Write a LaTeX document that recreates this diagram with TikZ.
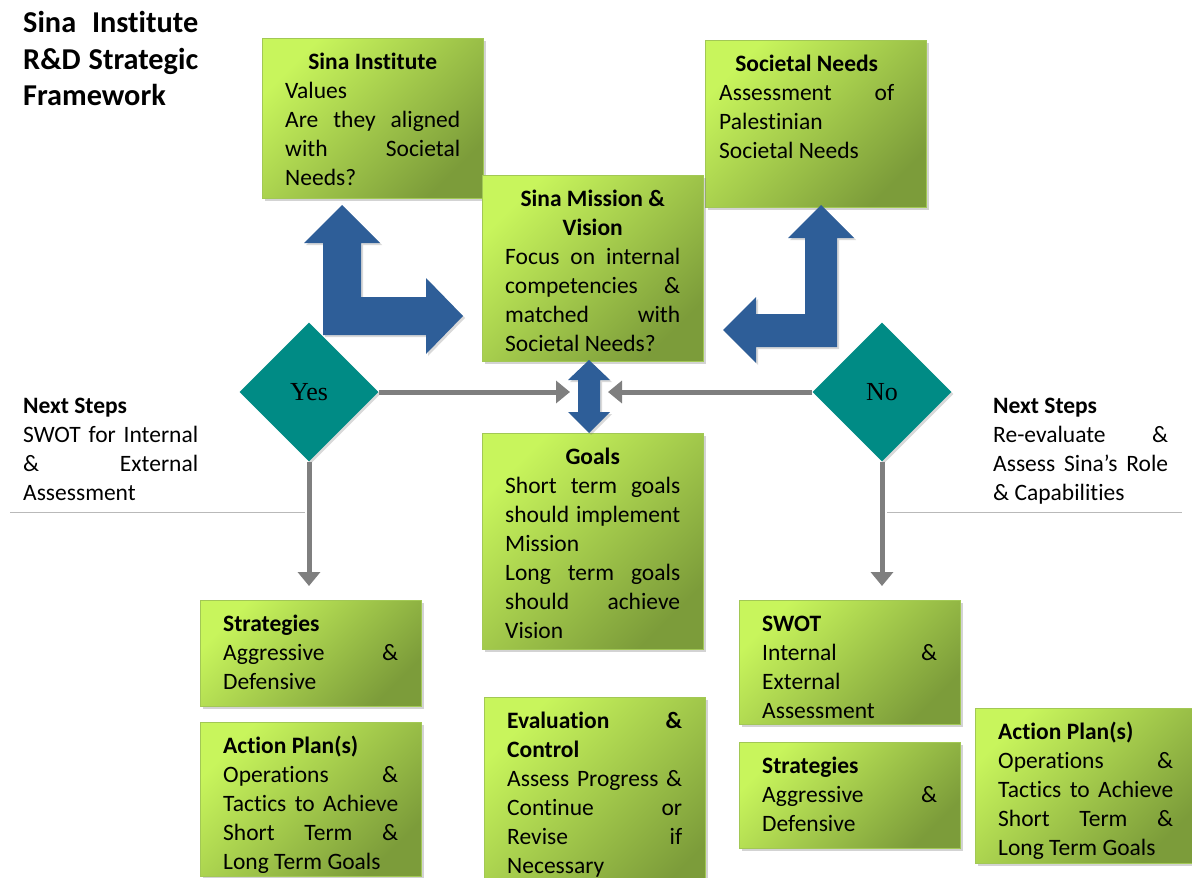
\documentclass[tikz,border=0pt]{standalone}
\usepackage{fontspec}
\setmainfont{Carlito}[Ligatures=NoCommon]
\newfontfamily\yesnofont{Liberation Serif}
\usetikzlibrary{shapes.geometric,shadows,arrows.meta}

\definecolor{boxlight}{HTML}{C8F55C}
\definecolor{boxdark}{HTML}{7C9C3A}
\definecolor{boxedge}{HTML}{A2C855}
\definecolor{arrowblue}{HTML}{2E5E98}
\definecolor{decteal}{HTML}{008B85}
\definecolor{flowgrey}{HTML}{7F7F7F}

\newcommand{\boxfont}{\fontsize{23.5pt}{29pt}\selectfont}
\hyphenpenalty=10000
\exhyphenpenalty=10000
\tolerance=10000
\hbadness=10000

\tikzset{
  greenbox/.style={draw=boxedge, anchor=north west, inner xsep=23pt, inner ysep=10.5pt,
    top color=boxlight, bottom color=boxdark, shading angle=45,
    drop shadow={shadow xshift=3pt, shadow yshift=-3pt, opacity=0.35}},
  decision/.style={diamond, fill=decteal, minimum width=139pt, minimum height=139pt, inner sep=0pt,
    font=\yesnofont\fontsize{26pt}{30pt}\selectfont,
    drop shadow={shadow xshift=2pt, shadow yshift=-2pt, opacity=0.3}},
  flow/.style={draw=flowgrey, line width=5pt, -{Triangle[width=22pt,length=14pt]}},
  bigarrow/.style={fill=arrowblue, drop shadow={shadow xshift=2pt, shadow yshift=-2pt, opacity=0.3}},
  divider/.style={draw=gray!55, line width=1pt}
}

\begin{document}
\begin{tikzpicture}[x=1pt, y=-1pt]
\useasboundingbox (0,0) rectangle (1192,878);

% title
\node[anchor=north west, inner sep=0pt] (title) at (23,7)
  {\parbox[t]{175pt}{\fontsize{30.3pt}{36.5pt}\selectfont\bfseries
   \strut Sina Institute\linebreak R\&D Strategic\linebreak Framework}};

% next steps
\node[anchor=north west, inner sep=0pt] (nextyes) at (23,393)
  {\parbox[t]{175pt}{\boxfont\strut\textbf{Next Steps}\par
   SWOT for Internal\linebreak \& External\linebreak Assessment}};
\node[anchor=north west, inner sep=0pt] (nextno) at (993,393)
  {\parbox[t]{175pt}{\boxfont\strut\textbf{Next Steps}\par
   Re-evaluate \&\linebreak Assess Sina’s Role\linebreak \& Capabilities}};

\draw[divider] (10,512) -- (305,512);
\draw[divider] (887,512) -- (1182,512);

% flow connectors
\node[decision] (yes) at (309,392) {Yes};
\node[decision] (no) at (882,392) {No};
\coordinate (yesin) at (570,392);
\coordinate (noin) at (608,392);
\coordinate (yesdown) at (309,586);
\coordinate (nodown) at (882,586);
\draw[flow] (yes.east) -- (yesin);
\draw[flow] (no.west) -- (noin);
\draw[flow] (yes.south) -- (yesdown);
\draw[flow] (no.south) -- (nodown);

% boxes
\node[greenbox] (values) at (262,38) {\parbox[t][139pt][t]{175pt}{\boxfont
  {\centering\strut\textbf{Sina Institute}\par}
  Values\par
  Are they aligned\linebreak with Societal\linebreak Needs?}};
\node[greenbox, inner xsep=14pt] (needs) at (705,40) {\parbox[t][146pt][t]{175pt}{\boxfont
  {\centering\strut\textbf{Societal Needs}\par}
  Assessment of\linebreak Palestinian\\ Societal Needs}\rule{18pt}{0pt}};
\node[greenbox] (mission) at (482,175) {\parbox[t][165pt][t]{175pt}{\boxfont
  {\centering\strut\textbf{Sina Mission \&\\ Vision}\par}
  Focus on internal\linebreak competencies \&\linebreak matched with\linebreak Societal Needs?}};
\node[greenbox] (goals) at (482,433) {\parbox[t][195pt][t]{175pt}{\boxfont
  {\centering\strut\textbf{Goals}\par}
  Short term goals\linebreak should implement\linebreak Mission\par
  Long term goals\linebreak should achieve\linebreak Vision}};
\node[greenbox] (stratyes) at (200,600) {\parbox[t][85pt][t]{175pt}{\boxfont
  \strut\textbf{Strategies}\par
  Aggressive \&\linebreak Defensive}};
\node[greenbox] (planyes) at (200,722) {\parbox[t][133pt][t]{175pt}{\boxfont
  \strut\textbf{Action Plan(s)}\par
  Operations \&\linebreak Tactics to Achieve\linebreak Short Term \&\linebreak Long Term Goals}};
\node[greenbox] (eval) at (484,697) {\parbox[t][190pt][t]{175pt}{\boxfont
  \strut\textbf{Evaluation \&\linebreak Control}\par
  Assess Progress \&\linebreak Continue or\linebreak Revise if\linebreak Necessary}};
\node[greenbox] (swot) at (739,600) {\parbox[t][103pt][t]{175pt}{\boxfont
  \strut\textbf{SWOT}\par
  Internal \&\linebreak External\\ Assessment}};
\node[greenbox] (stratno) at (739,742) {\parbox[t][85pt][t]{175pt}{\boxfont
  \strut\textbf{Strategies}\par
  Aggressive \&\linebreak Defensive}};
\node[greenbox] (planno) at (975,708) {\parbox[t][134pt][t]{175pt}{\boxfont
  \strut\textbf{Action Plan(s)}\par
  Operations \&\linebreak Tactics to Achieve\linebreak Short Term \&\linebreak Long Term Goals}};

% blue arrows
\fill[bigarrow] (342,205) -- (380,243) -- (361,243) -- (361,297) -- (426,297) -- (426,278)
  -- (463,316) -- (426,354) -- (426,335) -- (323,335) -- (323,243) -- (304,243) -- cycle;
\fill[bigarrow] (821,205) -- (854,238) -- (837,238) -- (837,347) -- (756,347) -- (756,363)
  -- (723,330) -- (756,297) -- (756,314) -- (805,314) -- (805,238) -- (788,238) -- cycle;
\fill[bigarrow] (589,360) -- (610,380) -- (600,380) -- (600,412) -- (610,412) -- (589,433)
  -- (568,412) -- (578,412) -- (578,380) -- (568,380) -- cycle;
\end{tikzpicture}
\end{document}
